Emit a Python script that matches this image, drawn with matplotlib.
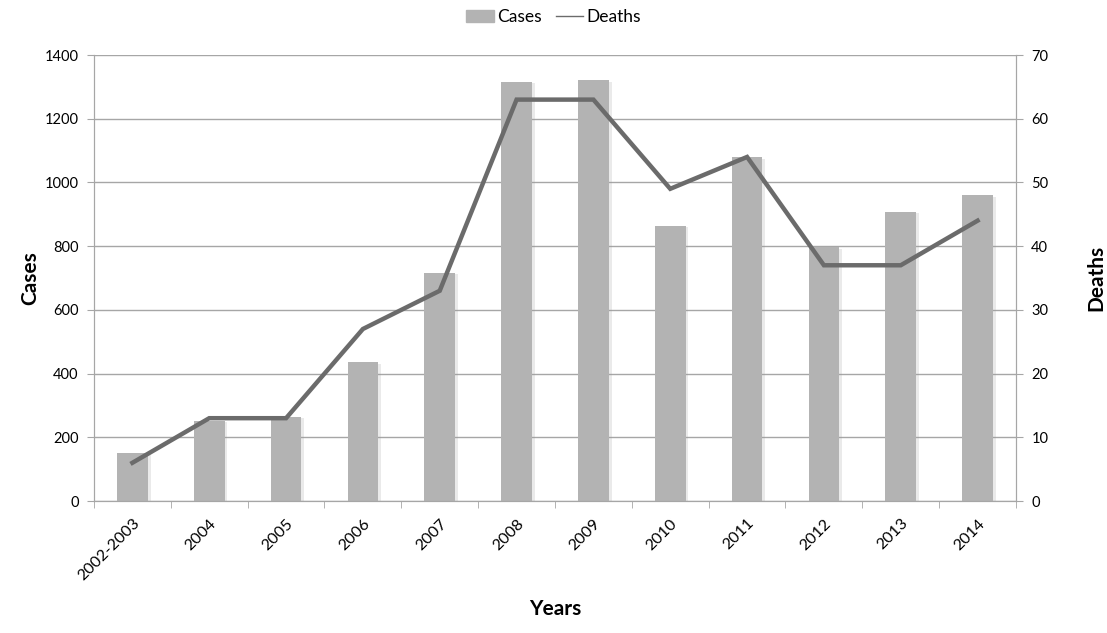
import matplotlib
matplotlib.use("Agg")
import matplotlib.pyplot as plt
import matplotlib.patheffects as pe
from matplotlib.lines import Line2D
from matplotlib.patches import Patch
import numpy as np

years = ["2002-2003", "2004", "2005", "2006", "2007", "2008",
         "2009", "2010", "2011", "2012", "2013", "2014"]
cases = [150, 251, 264, 436, 716, 1315, 1321, 863, 1079, 797, 907, 960]
deaths = [6, 13, 13, 27, 33, 63, 63, 49, 54, 37, 37, 44]

plt.rcParams['font.family'] = ['Lato', 'DejaVu Sans']

BAR = "#b3b3b3"
LINE = "#6b6b6b"
GRID = "#a6a6a6"

fig = plt.figure(figsize=(11.07, 6.33), dpi=100)
ax = fig.add_axes([0.0849, 0.2085, 0.8329, 0.7046])
ax2 = ax.twinx()

x = np.arange(len(years))
bars = ax.bar(x, cases, width=0.4, color=BAR, zorder=2)
for b in bars:
    b.set_path_effects([pe.SimplePatchShadow(offset=(2, -1), shadow_rgbFace="#999999", alpha=0.2),
                        pe.Normal()])

ax2.plot(x, deaths, color=LINE, lw=3.2, solid_joinstyle="miter", zorder=3)

ax.set_xlim(-0.5, len(years) - 0.5)
ax.set_ylim(0, 1400)
ax2.set_ylim(0, 70)
ax.set_yticks(range(0, 1401, 200))
ax2.set_yticks(range(0, 71, 10))

ax.grid(axis="y", color=GRID, lw=1, zorder=0)
ax.set_axisbelow(True)

ax.set_xticks(x)
ax.set_xticklabels(years, rotation=45, ha="right", rotation_mode="anchor", fontsize=11.5)
ax.set_xticks(np.arange(-0.5, len(years)), minor=True)
ax.tick_params(axis="x", which="major", length=0, pad=11)
ax.tick_params(axis="x", which="minor", length=5, color=GRID, direction="out")
ax.tick_params(axis="y", length=5, color=GRID, labelsize=10.5, pad=6)
ax2.tick_params(axis="y", length=5, color=GRID, labelsize=10.5, pad=6)

for a in (ax, ax2):
    a.spines["top"].set_visible(False)
    for s in ("left", "right", "bottom"):
        a.spines[s].set_color(GRID)
ax2.set_zorder(ax.get_zorder() + 1)
ax2.patch.set_visible(False)

ax.set_ylabel("Cases", fontsize=15, fontweight="bold", labelpad=3)
ax2.set_ylabel("Deaths", fontsize=15, fontweight="bold", labelpad=27)
ax.set_xlabel("Years", fontsize=15, fontweight="bold", labelpad=11)

handles = [Patch(color=BAR), Line2D([0], [0], color=LINE, lw=1)]
fig.legend(handles, ["Cases", "Deaths"], loc="upper center", bbox_to_anchor=(0.5, 1.01),
           ncol=2, frameon=False, fontsize=12.5, handlelength=1.6, handletextpad=0.2,
           columnspacing=0.8)

fig.savefig("out.png", dpi=100, facecolor="white")
